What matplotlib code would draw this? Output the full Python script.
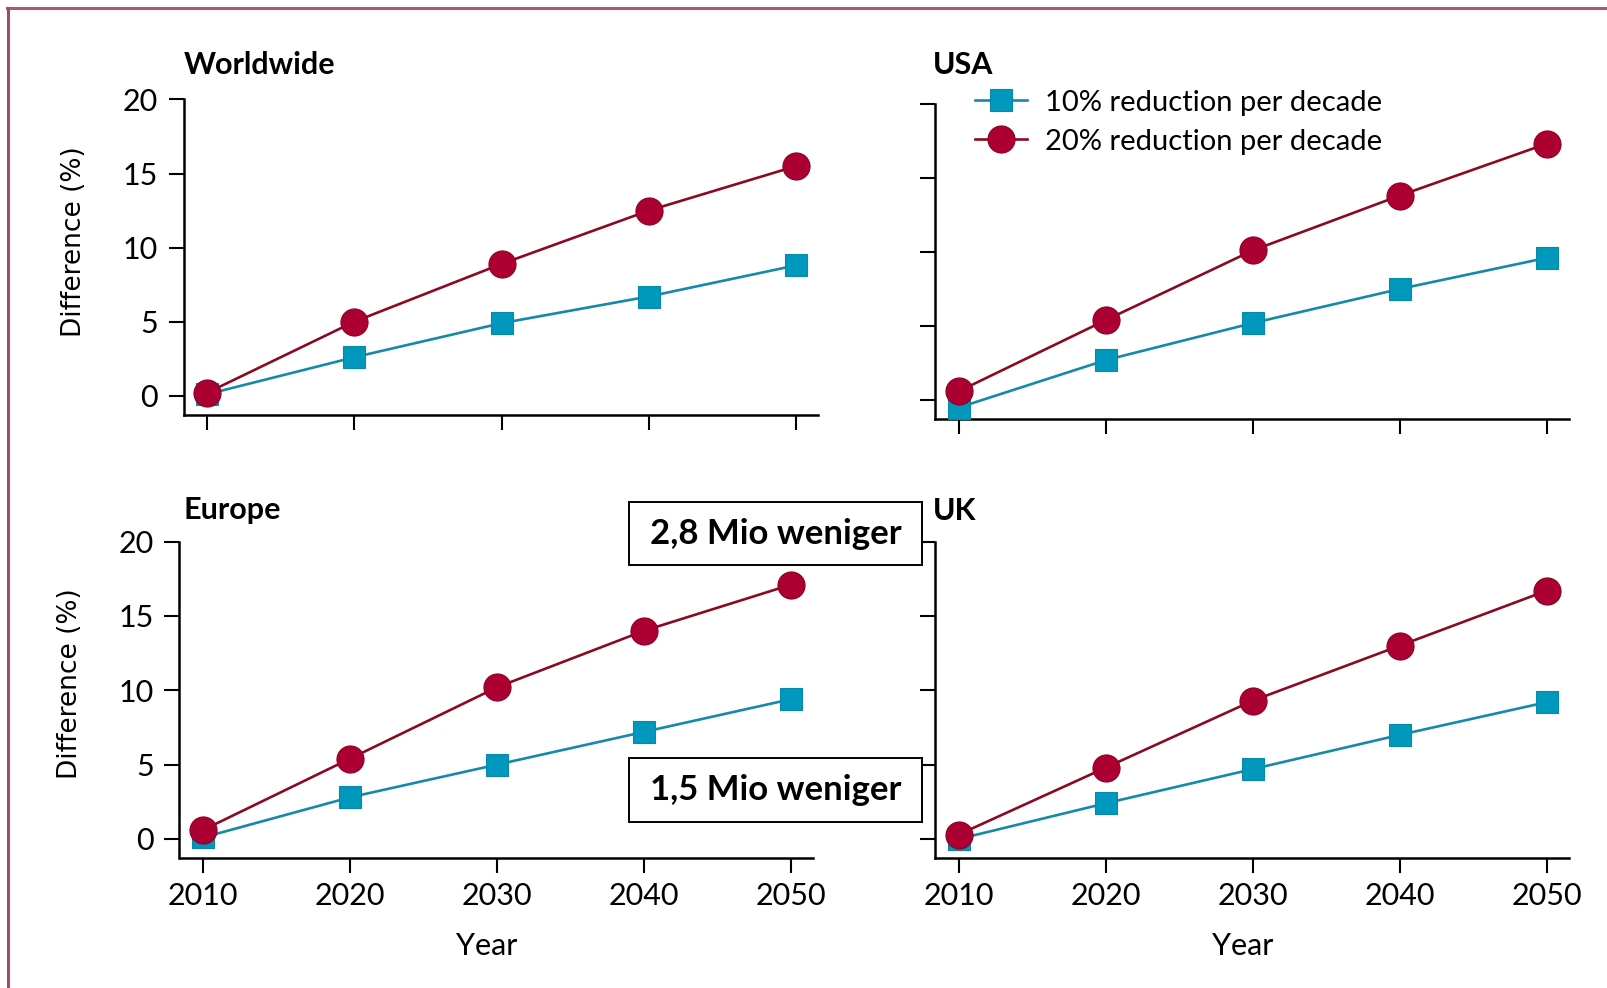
import matplotlib
matplotlib.use("Agg")
import matplotlib.pyplot as plt
from matplotlib.lines import Line2D
from matplotlib.patches import Rectangle

plt.rcParams['font.family'] = ['Lato', 'DejaVu Sans']

years = [2010, 2020, 2030, 2040, 2050]
panels = ["Worldwide", "USA", "Europe", "UK"]

world_10 = [0.1, 2.6, 4.9, 6.7, 8.8]
world_20 = [0.2, 5.0, 8.9, 12.5, 15.5]
usa_10 = [-0.5, 2.7, 5.2, 7.5, 9.6]
usa_20 = [0.6, 5.4, 10.1, 13.8, 17.3]
europe_10 = [0.1, 2.8, 5.0, 7.2, 9.4]
europe_20 = [0.6, 5.4, 10.2, 14.0, 17.1]
uk_10 = [0.0, 2.4, 4.7, 7.0, 9.2]
uk_20 = [0.3, 4.8, 9.3, 13.0, 16.7]

series_10 = [world_10, usa_10, europe_10, uk_10]
series_20 = [world_20, usa_20, europe_20, uk_20]
label_10 = "10% reduction per decade"
label_20 = "20% reduction per decade"
yticks = [0, 5, 10, 15, 20]
notes = ["2,8 Mio weniger", "1,5 Mio weniger"]

TEAL = "#0098bd"
TEAL_LINE = "#1589a8"
RED = "#ad0032"
RED_LINE = "#8a0a22"

W, H = 1608, 988
fig = plt.figure(figsize=(W / 100, H / 100), dpi=100)

# axes boxes in pixels: left, top, right, bottom
boxes = [(183.6, 99.5, 818, 415),
         (935.3, 103.6, 1569, 419.4),
         (179.5, 541.5, 813.2, 858.3),
         (935.3, 541.5, 1569, 858.3)]
# title anchor (left x, centre y) in pixels
title_pos = [(183.6, 64.5), (933, 64.5), (183.6, 510.5), (933, 510.5)]

axes = []
for i, (l, t, r, b) in enumerate(boxes):
    ax = fig.add_axes([l / W, 1 - b / H, (r - l) / W, (b - t) / H])
    axes.append(ax)
    ax.plot(years, series_10[i], color=TEAL_LINE, lw=1.9, marker='s', ms=16.5,
            mfc=TEAL, mec="#0889a8", mew=0.8, label=label_10, zorder=3)
    ax.plot(years, series_20[i], color=RED_LINE, lw=1.9, marker='o', ms=19.5,
            mfc=RED, mec="#8e0026", mew=0.8, label=label_20, zorder=4)
    ax.set_xlim(2008.4, 2051.5)
    ax.set_ylim(-1.3, 20)
    ax.set_xticks(years)
    ax.set_yticks(yticks)
    for s in ['top', 'right']:
        ax.spines[s].set_visible(False)
    for s in ['left', 'bottom']:
        ax.spines[s].set_linewidth(1.8)
    ax.tick_params(axis='y', direction='out', length=10.5, width=1.5, pad=8, labelsize=22)
    ax.tick_params(axis='x', direction='out', length=11, width=1.5, pad=6, labelsize=22)
    ax.patch.set_visible(False)
    for c in ax.lines:
        c.set_clip_on(False)

    tx, ty = title_pos[i]
    fig.text(tx / W, 1 - ty / H, panels[i], fontsize=22, fontweight='bold',
             ha='left', va='center')

    if i % 2 == 1:
        ax.set_yticklabels([])
    else:
        ax.set_ylabel("Difference (%)", family='DejaVu Sans', fontsize=19)
        ax.yaxis.set_label_coords(-0.153, 0.55)
    if i < 2:
        ax.set_xticklabels([])
    else:
        ax.set_xlabel("Year", fontsize=22, labelpad=16)
        ax.xaxis.label.set_x(0.485)

axes[1].legend(loc='upper left', bbox_to_anchor=(0.035, 1.1), frameon=False,
               fontsize=21, handlelength=1.8, handletextpad=0.6, labelspacing=0.45,
               borderaxespad=0.2)

# annotation boxes
for (x0, y0, x1, y1), txt in zip([(629, 502, 922, 565), (629, 758, 922, 822)], notes):
    fig.patches.append(Rectangle((x0 / W, 1 - y1 / H), (x1 - x0) / W, (y1 - y0) / H,
                                 transform=fig.transFigure, facecolor='white',
                                 edgecolor='black', lw=1.4, zorder=5))
    fig.text((x0 + x1) / 2 / W, 1 - (y0 + y1) / 2 / H, txt,
             fontweight='bold', fontsize=25, ha='center', va='center', zorder=6)

# thin frame along the top and left edges
fig.add_artist(Line2D([7 / W, 1], [1 - 8.5 / H, 1 - 8.5 / H], transform=fig.transFigure,
                      color="#b3566c", lw=2.2))
fig.add_artist(Line2D([8 / W, 8 / W], [0, 1 - 8 / H], transform=fig.transFigure,
                      color="#a0505a", lw=2.2))

fig.savefig("out.png", dpi=100)
